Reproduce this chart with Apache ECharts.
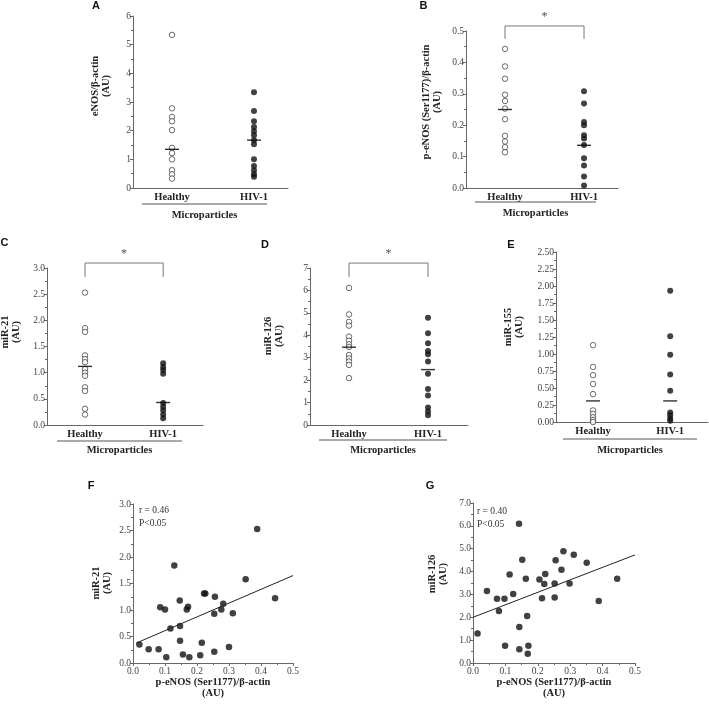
<!DOCTYPE html>
<html>
<head>
<meta charset="utf-8">
<script src="https://cdn.jsdelivr.net/npm/echarts@6/dist/echarts.min.js"></script>
<style>html,body{margin:0;padding:0;background:#fff}#c{width:709px;height:709px}</style>
</head>
<body>
<div id="c"></div>
<script>
// ---------- DATA ----------
const groups = ['Healthy', 'HIV-1'];

// A: eNOS/β-actin
const eNOS_healthy = [5.34, 2.78, 2.48, 2.33, 2.02, 1.40, 1.22, 1.00, 0.62, 0.48, 0.33];
const eNOS_hiv = [3.34, 2.69, 2.33, 2.13, 1.98, 1.84, 1.67, 1.53, 1.00, 0.77, 0.62, 0.48, 0.39];
const eNOS_median = [1.35, 1.67];

// B: p-eNOS (Ser1177)/β-actin
const peNOS_healthy = [0.443, 0.387, 0.348, 0.297, 0.277, 0.253, 0.219, 0.166, 0.148, 0.130, 0.114];
const peNOS_hiv = [0.308, 0.269, 0.210, 0.200, 0.168, 0.158, 0.137, 0.095, 0.072, 0.037, 0.008];
const peNOS_median = [0.250, 0.136];

// C: miR-21
const miR21_healthy = [2.53, 1.85, 1.78, 1.33, 1.26, 1.20, 1.07, 1.00, 0.94, 0.72, 0.65, 0.31, 0.20];
const miR21_hiv = [1.18, 1.11, 1.05, 0.98, 0.42, 0.35, 0.28, 0.20, 0.13];
const miR21_median = [1.12, 0.43];

// D: miR-126
const miR126_healthy = [6.11, 4.93, 4.60, 4.43, 3.94, 3.76, 3.60, 3.48, 3.12, 2.97, 2.83, 2.68, 2.09];
const miR126_hiv = [4.78, 4.09, 3.64, 3.30, 3.15, 2.83, 2.28, 1.60, 1.32, 0.78, 0.60, 0.43];
const miR126_median = [3.47, 2.47];

// E: miR-155
const miR155_healthy = [1.13, 0.81, 0.69, 0.56, 0.41, 0.17, 0.12, 0.07, 0.03, 0.00];
const miR155_hiv = [1.93, 1.26, 0.99, 0.70, 0.46, 0.14, 0.10, 0.05, 0.02];
const miR155_median = [0.31, 0.31];

// F: miR-21 vs p-eNOS
const F_x = [0.020, 0.049, 0.080, 0.104, 0.085, 0.100, 0.117, 0.129, 0.146, 0.147, 0.147, 0.156, 0.168, 0.172, 0.176, 0.210, 0.215, 0.222, 0.226, 0.256, 0.254, 0.254, 0.276, 0.282, 0.300, 0.312, 0.352, 0.388, 0.444];
const F_y = [0.35, 0.26, 0.26, 0.11, 1.05, 1.01, 0.65, 1.84, 1.18, 0.70, 0.42, 0.16, 1.01, 1.06, 0.11, 0.145, 0.38, 1.31, 1.31, 1.25, 0.93, 0.21, 1.01, 1.12, 0.30, 0.94, 1.58, 2.53, 1.22];
const F_fit = { intercept: 0.35, slope: 2.6, from: 0.01, to: 0.5 };
const F_stats = ['r = 0.46', 'P<0.05'];

// G: miR-126 vs p-eNOS
const G_x = [0.014, 0.043, 0.074, 0.080, 0.097, 0.099, 0.113, 0.124, 0.142, 0.143, 0.143, 0.152, 0.163, 0.167, 0.169, 0.171, 0.205, 0.213, 0.220, 0.223, 0.252, 0.252, 0.255, 0.273, 0.279, 0.298, 0.311, 0.351, 0.388, 0.445];
const G_y = [1.29, 3.15, 2.81, 2.28, 2.81, 0.75, 3.87, 3.02, 6.09, 1.57, 0.60, 4.52, 3.69, 2.06, 0.41, 0.75, 3.65, 2.83, 3.46, 3.89, 3.48, 2.87, 4.49, 4.08, 4.89, 3.48, 4.74, 4.39, 2.71, 3.69];
const G_fit = { intercept: 2.0, slope: 5.46, from: 0.0, to: 0.5 };
const G_stats = ['r = 0.40', 'P<0.05'];

const xTitle = 'p-eNOS (Ser1177)/β-actin\n(AU)';
const groupTitle = 'Microparticles';

// ---------- LAYOUT ----------
const SERIF = '"Liberation Serif", "Times New Roman", serif';
const SANS = '"Liberation Sans", Arial, sans-serif';
const AX = '#666';
const LBL = '#444';

const panels = [
  { key: 'A', grid: [133, 16, 155, 172], xr: [0.524, 2.415], y: [0, 6, 1, 0], name: 'eNOS/β-actin\n(AU)', namePos: [101, 86],
    h: eNOS_healthy, v: eNOS_hiv, m: eNOS_median, letter: [96, 6], line: [142, 267, 204], title: [204.5, 215] },
  { key: 'B', grid: [466, 31, 152, 157], xr: [0.506, 2.43], y: [0, 0.5, 0.1, 1], name: 'p-eNOS (Ser1177)/β-actin\n(AU)', namePos: [432, 102],
    h: peNOS_healthy, v: peNOS_hiv, m: peNOS_median, letter: [423.5, 6], line: [475, 596, 202], title: [535.5, 213],
    bracket: [0.516, 0.475] },
  { key: 'C', grid: [47, 268, 156, 157], xr: [0.513, 2.51], y: [0, 3, 0.5, 1], name: 'miR-21\n(AU)', namePos: [11, 332],
    h: miR21_healthy, v: miR21_hiv, m: miR21_median, letter: [4.5, 243], line: [57, 182, 441], title: [119.5, 450],
    bracket: [3.095, 2.83] },
  { key: 'D', grid: [310, 268, 158, 157], xr: [0.506, 2.506], y: [0, 7, 1, 0], name: 'miR-126\n(AU)', namePos: [274, 336],
    h: miR126_healthy, v: miR126_hiv, m: miR126_median, letter: [265, 245], line: [319, 447, 440], title: [383, 450],
    bracket: [7.22, 6.6] },
  { key: 'E', grid: [556, 252, 152, 170], xr: [0.52, 2.49], y: [0, 2.5, 0.25, 2], name: 'miR-155\n(AU)', namePos: [514, 327],
    h: miR155_healthy, v: miR155_hiv, m: miR155_median, letter: [511, 245], line: [563, 697, 439], title: [630, 450] }
];

const scatterPanels = [
  { key: 'F', grid: [133, 504, 160, 159], y: [0, 3, 0.5, 1], name: 'miR-21\n(AU)', namePos: [102, 583],
    x: F_x, yv: F_y, fit: F_fit, stats: F_stats, letter: [91, 486], statPos: [139, 510] },
  { key: 'G', grid: [473, 503, 162, 160], y: [0, 7, 1, 1], name: 'miR-126\n(AU)', namePos: [438, 574],
    x: G_x, yv: G_y, fit: G_fit, stats: G_stats, letter: [430, 486], statPos: [477, 511] }
];

const grids = [], xAxes = [], yAxes = [], series = [], graphics = [];

function yAxisFor(i, p) {
  return {
    gridIndex: i, type: 'value', min: p.y[0], max: p.y[1], interval: p.y[2],
    axisLine: { show: true, lineStyle: { color: AX, width: 1 } },
    axisTick: { show: true, length: 3, lineStyle: { color: AX } },
    minorTick: { show: true, splitNumber: 2, length: 2, lineStyle: { color: AX } },
    splitLine: { show: false },
    axisLabel: { fontFamily: SERIF, fontSize: 9.5, color: LBL, margin: 2,
      formatter: v => Number(v).toFixed(p.y[3]) }
  };
}

function yName(p) {
  graphics.push({ type: 'text', x: p.namePos[0], y: p.namePos[1], rotation: Math.PI / 2,
    style: { text: p.name, font: 'bold 10.5px ' + SERIF, fill: '#222', align: 'center', verticalAlign: 'middle', lineHeight: 11 } });
}

panels.forEach((p, i) => {
  grids.push({ left: p.grid[0], top: p.grid[1], width: p.grid[2], height: p.grid[3] });
  xAxes.push({
    gridIndex: i, type: 'value', min: p.xr[0], max: p.xr[1],
    axisLine: { show: true, lineStyle: { color: AX, width: 1 } },
    axisTick: { show: false }, splitLine: { show: false },
    axisLabel: { customValues: [1, 2], formatter: v => groups[Math.round(v) - 1],
      fontFamily: SERIF, fontWeight: 'bold', fontSize: 10.5, color: '#222', margin: 4 }
  });
  yAxes.push(yAxisFor(i, p));
  series.push({ type: 'scatter', xAxisIndex: i, yAxisIndex: i, clip: false, silent: true,
    symbol: 'circle', symbolSize: 5.5,
    itemStyle: { color: '#fff', borderColor: '#333', borderWidth: 0.9 },
    data: p.h.map(v => [1, v]) });
  series.push({ type: 'scatter', xAxisIndex: i, yAxisIndex: i, clip: false, silent: true,
    symbol: 'circle', symbolSize: 6, itemStyle: { color: '#111' },
    data: p.v.map(v => [2, v]) });
  series.push({ type: 'scatter', xAxisIndex: i, yAxisIndex: i, clip: false, silent: true, z: 5,
    symbol: 'rect', symbolSize: [14, 1.4], itemStyle: { color: '#000' },
    data: p.m.map((v, k) => [k + 1, v]) });
  if (p.bracket) {
    const [top, leg] = p.bracket;
    series.push({ type: 'line', xAxisIndex: i, yAxisIndex: i, clip: false, silent: true,
      symbol: 'none', lineStyle: { color: '#777', width: 1 },
      data: [[1, leg], [1, top], [2, top], [2, leg]] });
    series.push({ type: 'scatter', xAxisIndex: i, yAxisIndex: i, clip: false, silent: true,
      symbolSize: 0,
      label: { show: true, position: 'top', distance: 3, formatter: '*', fontFamily: SERIF, fontSize: 12, color: '#222' },
      data: [[1.5, top]] });
  }
  yName(p);
  graphics.push({ type: 'text', x: p.letter[0], y: p.letter[1],
    style: { text: p.key, font: 'bold 11px ' + SANS, fill: '#111', align: 'center', verticalAlign: 'middle' } });
  graphics.push({ type: 'line', shape: { x1: p.line[0], y1: p.line[2], x2: p.line[1], y2: p.line[2] },
    style: { stroke: '#555', lineWidth: 1 } });
  graphics.push({ type: 'text', x: p.title[0], y: p.title[1],
    style: { text: groupTitle, font: 'bold 10.5px ' + SERIF, fill: '#222', align: 'center', verticalAlign: 'middle' } });
});

scatterPanels.forEach((p, j) => {
  const i = panels.length + j;
  grids.push({ left: p.grid[0], top: p.grid[1], width: p.grid[2], height: p.grid[3] });
  xAxes.push({
    gridIndex: i, type: 'value', min: 0, max: 0.5, interval: 0.1,
    name: xTitle, nameLocation: 'middle', nameGap: 13,
    nameTextStyle: { fontFamily: SERIF, fontWeight: 'bold', fontSize: 10.5, color: '#222', lineHeight: 11, verticalAlign: 'top' },
    axisLine: { show: true, lineStyle: { color: AX, width: 1 } },
    axisTick: { show: true, length: 3, lineStyle: { color: AX } },
    minorTick: { show: true, splitNumber: 2, length: 2, lineStyle: { color: AX } },
    splitLine: { show: false },
    axisLabel: { fontFamily: SERIF, fontSize: 9.5, color: LBL, margin: 3, formatter: v => Number(v).toFixed(1) }
  });
  yAxes.push(yAxisFor(i, p));
  series.push({ type: 'scatter', xAxisIndex: i, yAxisIndex: i, clip: false, silent: true,
    symbol: 'circle', symbolSize: 6.5, itemStyle: { color: '#111' },
    data: p.x.map((x, k) => [x, p.yv[k]]) });
  series.push({ type: 'line', xAxisIndex: i, yAxisIndex: i, clip: false, silent: true,
    symbol: 'none', lineStyle: { color: '#222', width: 1 },
    data: [[p.fit.from, p.fit.intercept + p.fit.slope * p.fit.from], [p.fit.to, p.fit.intercept + p.fit.slope * p.fit.to]] });
  yName(p);
  graphics.push({ type: 'text', x: p.letter[0], y: p.letter[1],
    style: { text: p.key, font: 'bold 11px ' + SANS, fill: '#111', align: 'center', verticalAlign: 'middle' } });
  p.stats.forEach((s, k) => {
    graphics.push({ type: 'text', x: p.statPos[0], y: p.statPos[1] + k * 13,
      style: { text: s, font: '9.5px ' + SERIF, fill: '#333', align: 'left', verticalAlign: 'middle' } });
  });
});

const chart = echarts.init(document.getElementById('c'), null, { renderer: 'canvas' });
chart.setOption({
  animation: false,
  backgroundColor: '#fff',
  grid: grids, xAxis: xAxes, yAxis: yAxes, series: series, graphic: graphics
});
</script>
</body>
</html>
